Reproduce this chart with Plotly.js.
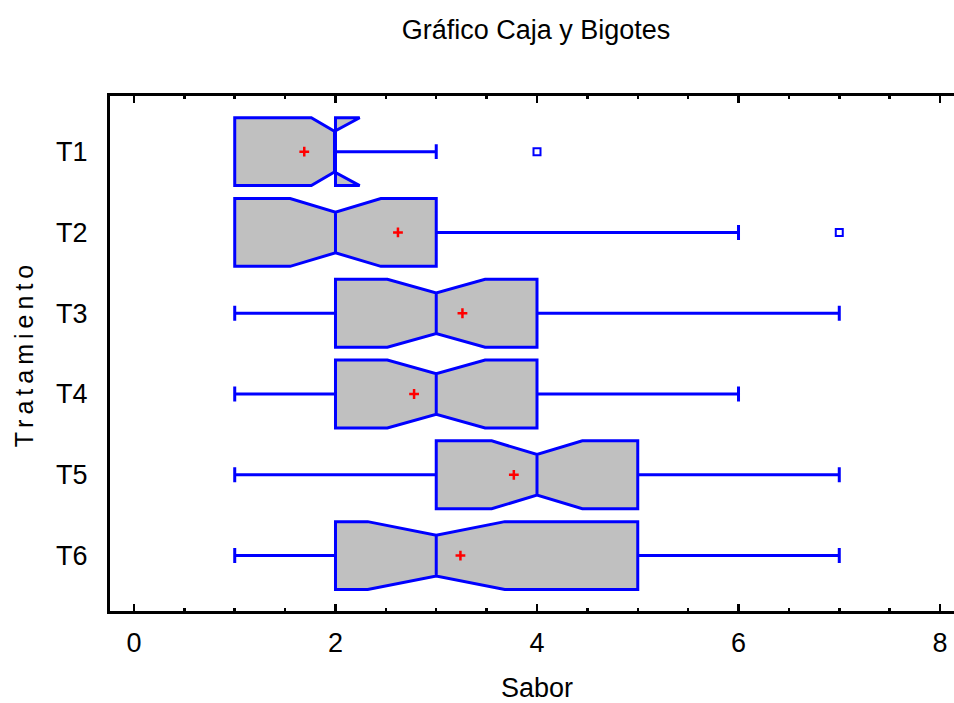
<!DOCTYPE html>
<html>
<head>
<meta charset="utf-8">
<script src="https://cdn.plot.ly/plotly-3.0.1.min.js"></script>
<style>
  html, body { margin: 0; padding: 0; overflow: hidden; background: #fff; }
  #chart { width: 964px; height: 703px; }
  .ytitle { letter-spacing: 5px; }
</style>
</head>
<body>
<div id="chart"></div>
<script>
// Data
const categories = ['T1', 'T2', 'T3', 'T4', 'T5', 'T6'];
const q1Values = [1, 1, 2, 2, 3, 2];
const medianValues = [2, 2, 3, 3, 4, 3];
const q3Values = [2, 3, 4, 4, 5, 5];
const lowerFences = [1, 1, 1, 1, 1, 1];
const upperFences = [3, 6, 7, 6, 7, 7];
const notchSpans = [0.24, 0.45, 0.485, 0.485, 0.45, 0.68];
const meanValues = [1.69, 2.62, 3.26, 2.78, 3.77, 3.24];
const outlierCategories = ['T1', 'T2'];
const outlierValues = [4, 7];
const xTickValues = [0, 2, 4, 6, 8];

const boxTrace = {
  type: 'box',
  orientation: 'h',
  y: categories,
  q1: q1Values,
  median: medianValues,
  q3: q3Values,
  lowerfence: lowerFences,
  upperfence: upperFences,
  notchspan: notchSpans,
  notched: true,
  notchwidth: 0.2,
  whiskerwidth: 0.22,
  width: 0.84,
  boxpoints: false,
  fillcolor: '#C0C0C0',
  line: { color: '#0000FF', width: 3 },
  hoverinfo: 'skip',
  showlegend: false
};

const meanTrace = {
  type: 'scatter',
  mode: 'markers',
  x: meanValues,
  y: categories,
  marker: { symbol: 'cross-thin', size: 7, line: { color: '#FF0000', width: 2.5 } },
  showlegend: false,
  hoverinfo: 'skip'
};

const outlierTrace = {
  type: 'scatter',
  mode: 'markers',
  x: outlierValues,
  y: outlierCategories,
  marker: { symbol: 'square-open', size: 7, color: '#0000FF', line: { color: '#0000FF', width: 2 } },
  showlegend: false,
  hoverinfo: 'skip'
};

const tickFont = { family: 'Liberation Sans Narrow, Liberation Sans, Arial, sans-serif', size: 27, color: '#000' };

const layout = {
  width: 964,
  height: 703,
  margin: { l: 110, r: 0, t: 96, b: 92 },
  paper_bgcolor: '#fff',
  plot_bgcolor: '#fff',
  showlegend: false,
  title: {
    text: 'Gráfico Caja y Bigotes',
    x: 536 / 964,
    xanchor: 'center',
    y: 1 - 30 / 703,
    yanchor: 'middle',
    font: { family: 'Liberation Sans, Arial, sans-serif', size: 27, color: '#000' }
  },
  xaxis: {
    range: [-0.238, 8.238],
    tickvals: xTickValues,
    ticktext: xTickValues.map(String),
    ticks: 'inside',
    ticklen: 7,
    tickwidth: 2.5,
    tickcolor: '#000',
    minor: { dtick: 0.5, ticks: 'inside', ticklen: 3, tickwidth: 2.5, tickcolor: '#000', showgrid: false },
    showline: true,
    linewidth: 3,
    linecolor: '#000',
    mirror: 'ticks',
    showgrid: false,
    zeroline: false,
    ticklabelstandoff: 6,
    tickfont: tickFont,
    title: {
      text: 'Sabor',
      standoff: 26,
      font: { family: 'Liberation Sans Narrow, Liberation Sans, Arial, sans-serif', size: 27, color: '#000' }
    }
  },
  yaxis: {
    type: 'category',
    categoryorder: 'array',
    categoryarray: categories,
    range: [5.686, -0.689],
    ticks: '',
    showline: true,
    linewidth: 3,
    linecolor: '#000',
    showgrid: false,
    zeroline: false,
    ticklabelstandoff: 14,
    tickfont: tickFont,
    title: {
      text: 'Tratamiento',
      standoff: 16,
      font: { family: 'Liberation Sans, Arial, sans-serif', size: 25, color: '#000' }
    }
  }
};

Plotly.newPlot('chart', [boxTrace, meanTrace, outlierTrace], layout, { displayModeBar: false, staticPlot: true });
</script>
</body>
</html>
